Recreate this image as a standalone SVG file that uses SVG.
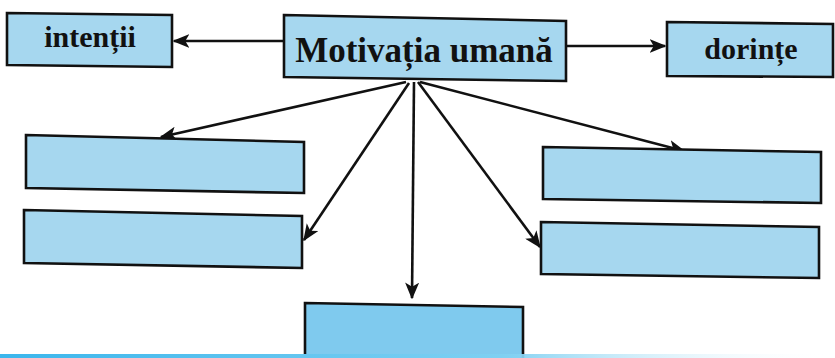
<svg xmlns="http://www.w3.org/2000/svg" width="835" height="358" viewBox="0 0 835 358">
  <defs>
    <style>
      .box { fill: #a6d7ef; stroke: #111; stroke-width: 2.6; stroke-linejoin: miter; }
      .box2 { fill: #7fcaee; stroke: #111; stroke-width: 2.6; }
      .lbl { font-family: "Liberation Serif", "Times New Roman", serif; font-weight: bold; fill: #111; text-anchor: middle; }
      .conn { stroke: #111; stroke-width: 2.6; fill: none; marker-end: url(#arr); }
    </style>
    <marker id="arr" viewBox="0 0 12 10" refX="11" refY="5" markerWidth="6.5" markerHeight="5.5" orient="auto" markerUnits="strokeWidth">
      <path d="M0,0 L12,5 L0,10 L3,5 Z" fill="#111"/>
    </marker>
    <linearGradient id="band" x1="0" y1="0" x2="1" y2="0">
      <stop offset="0" stop-color="#3bb6ec"/>
      <stop offset="0.6" stop-color="#7fd0f2"/>
      <stop offset="1" stop-color="#ffffff" stop-opacity="0"/>
    </linearGradient>
  </defs>
  <rect x="0" y="0" width="835" height="358" fill="#ffffff"/>

  <g id="connectors">
    <line class="conn" x1="284" y1="41" x2="174" y2="41"/>
    <line class="conn" x1="566" y1="46" x2="665" y2="46"/>
    <line class="conn" x1="406" y1="82" x2="161" y2="137"/>
    <line class="conn" x1="409" y1="83" x2="304" y2="240"/>
    <line class="conn" x1="414" y1="82" x2="412" y2="298"/>
    <line class="conn" x1="418" y1="82" x2="540" y2="247"/>
    <line class="conn" x1="420" y1="82" x2="684" y2="151"/>
  </g>

  <g id="node-motivatia">
    <polygon class="box" points="284,15 566,21 566,81 284,77"/>
    <text class="lbl" x="424" y="62" font-size="35">Motivația umană</text>
  </g>
  <g id="node-intentii">
    <polygon class="box" points="7,13 172,15 172,67 7,65"/>
    <text class="lbl" x="90" y="47" font-size="30">intenții</text>
  </g>
  <g id="node-dorinte">
    <polygon class="box" points="667,22 833,24 833,77 667,76"/>
    <text class="lbl" x="751" y="59" font-size="30">dorințe</text>
  </g>
  <g id="node-left1">
    <polygon class="box" points="26,135 304,142 304,193 26,188"/>
  </g>
  <g id="node-left2">
    <polygon class="box" points="24,210 302,216 302,268 24,263"/>
  </g>
  <g id="node-bottom">
    <polygon class="box2" points="305,303 523,307 523,360 305,360"/>
  </g>
  <g id="node-right1">
    <polygon class="box" points="543,147 821,152 821,203 543,199"/>
  </g>
  <g id="node-right2">
    <polygon class="box" points="541,222 819,227 819,278 541,274"/>
  </g>
  <rect x="0" y="354" width="835" height="4" fill="url(#band)"/>
</svg>
